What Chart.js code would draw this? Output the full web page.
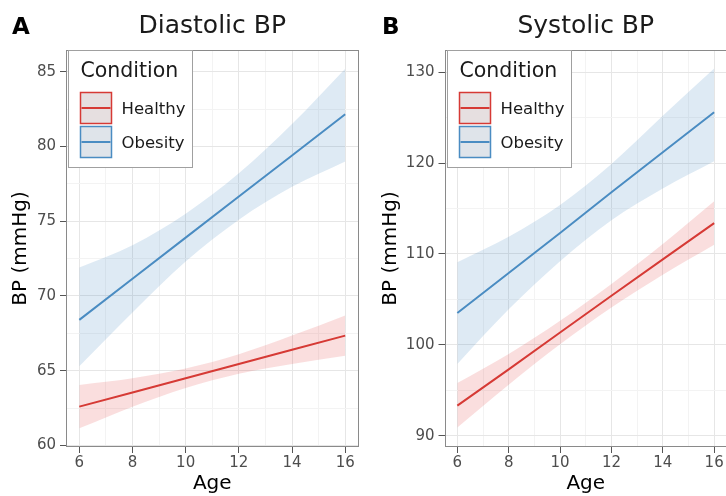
<!DOCTYPE html>
<html>
<head>
<meta charset="utf-8">
<script src="https://cdn.jsdelivr.net/npm/chart.js@4.4.1/dist/chart.umd.min.js"></script>
<style>
  html, body { margin: 0; padding: 0; background: #fff; overflow: hidden; }
  #wrap { position: relative; width: 726px; height: 496px; overflow: hidden; }
  canvas { position: absolute; top: 0; }
  #dia { left: 0; }
  #sys { left: 370px; }
</style>
</head>
<body>
<div id="wrap">
  <canvas id="dia" width="370" height="496"></canvas>
  <canvas id="sys" width="372" height="496"></canvas>
</div>
<script>
// ages where the fitted lines and bands are sampled
const ages = [6, 8, 10, 12, 14, 16];
const conditions = ['Healthy', 'Obesity'];

// diastolic BP: fitted line + confidence band
const diaHealthyFit  = [62.6, 63.55, 64.5, 65.45, 66.4, 67.35];
const diaHealthyLow  = [61.15, 62.6, 63.85, 64.8, 65.45, 66.0];
const diaHealthyHigh = [64.05, 64.5, 65.15, 66.1, 67.35, 68.7];
const diaObesityFit  = [68.4, 71.15, 73.9, 76.65, 79.4, 82.15];
const diaObesityLow  = [65.3, 68.9, 72.3, 75.1, 77.3, 79.0];
const diaObesityHigh = [71.9, 73.4, 75.5, 78.2, 81.5, 85.2];

// systolic BP
const sysHealthyFit  = [93.3, 97.3, 101.35, 105.4, 109.4, 113.4];
const sysHealthyLow  = [90.9, 95.6, 100.05, 104.1, 107.7, 111.0];
const sysHealthyHigh = [95.8, 99.0, 102.65, 106.7, 111.1, 115.8];
const sysObesityFit  = [103.5, 107.9, 112.3, 116.8, 121.2, 125.6];
const sysObesityLow  = [97.9, 103.9, 109.2, 113.7, 117.2, 120.2];
const sysObesityHigh = [109.1, 111.9, 115.4, 119.9, 125.2, 130.4];

// axis tick labels
const ageTicks = [6, 8, 10, 12, 14, 16];
const diaTicks = [60, 65, 70, 75, 80, 85];
const sysTicks = [90, 100, 110, 120, 130];

const FONT = '"DejaVu Sans", "Noto Sans", sans-serif';
const lineColors = { Healthy: '#d63a35', Obesity: '#4a8cc2' };
const bandColors = { Healthy: 'rgba(228, 60, 60, 0.17)', Obesity: 'rgba(70, 140, 195, 0.18)' };
const keyFills = { Healthy: '#e6dfe0', Obesity: '#dfe4ea' };

// minor grid lines sit halfway between the labelled ones
function withMinor(major) {
  const all = [];
  major.forEach((v, i) => {
    all.push(v);
    if (i < major.length - 1) all.push((v + major[i + 1]) / 2);
  });
  return all;
}

function pts(ys) {
  return ages.map((a, i) => ({ x: a, y: ys[i] }));
}

// frame, heading and ggplot-style legend
const panelDecor = {
  id: 'panelDecor',
  afterDatasetsDraw(chart) {
    const { ctx, chartArea: a } = chart;
    ctx.save();
    ctx.strokeStyle = '#8a8a8a';
    ctx.lineWidth = 1;
    ctx.strokeRect(Math.round(a.left) + 0.5, Math.round(a.top) + 0.5,
      Math.round(a.right - a.left) - 1, Math.round(a.bottom - a.top) - 1);
    ctx.restore();
  },
  afterDraw(chart, args, opts) {
    const { ctx, chartArea: a } = chart;
    ctx.save();
    // panel tag and title
    ctx.fillStyle = '#000';
    ctx.textBaseline = 'alphabetic';
    ctx.textAlign = 'left';
    ctx.font = 'bold 23px ' + FONT;
    ctx.fillText(opts.tag, 12, 34);
    ctx.fillStyle = '#1a1a1a';
    ctx.textAlign = 'center';
    ctx.font = '25px ' + FONT;
    ctx.fillText(opts.title, (a.left + a.right) / 2, 33);

    // legend box in the top-left corner of the panel
    const x0 = Math.round(a.left) + 2.5, y0 = Math.round(a.top) + 0.5;
    ctx.fillStyle = '#fff';
    ctx.fillRect(x0, y0, 124, 117);
    ctx.strokeStyle = '#a0a0a0';
    ctx.lineWidth = 1;
    ctx.strokeRect(x0, y0, 124, 117);

    ctx.textAlign = 'left';
    ctx.fillStyle = '#1a1a1a';
    ctx.font = '20.5px ' + FONT;
    ctx.fillText('Condition', x0 + 12, y0 + 26.5);

    ctx.font = '16.5px ' + FONT;
    conditions.forEach((name, i) => {
      const ky = y0 + 42 + i * 34;
      ctx.fillStyle = keyFills[name];
      ctx.fillRect(x0 + 12, ky, 31, 31);
      ctx.strokeStyle = lineColors[name];
      ctx.lineWidth = 1.5;
      ctx.strokeRect(x0 + 12, ky, 31, 31);
      ctx.lineWidth = 2;
      ctx.beginPath();
      ctx.moveTo(x0 + 13, ky + 15.5);
      ctx.lineTo(x0 + 42, ky + 15.5);
      ctx.stroke();
      ctx.fillStyle = '#1a1a1a';
      ctx.fillText(name, x0 + 53, ky + 21.5);
    });
    ctx.restore();
  }
};

function makePanel(id, cfg) {
  const yGrid = withMinor(cfg.yTicks);
  const xGrid = withMinor(ageTicks);
  const datasets = [];
  cfg.series.forEach(s => {
    datasets.push({
      label: s.name + ' low', data: pts(s.low), borderWidth: 0, pointRadius: 0,
      fill: false, cubicInterpolationMode: 'monotone', order: 2
    });
    datasets.push({
      label: s.name + ' high', data: pts(s.high), borderWidth: 0, pointRadius: 0,
      fill: '-1', backgroundColor: bandColors[s.name], cubicInterpolationMode: 'monotone', order: 2
    });
  });
  cfg.series.forEach(s => {
    datasets.push({
      label: s.name, data: pts(s.fit), borderColor: lineColors[s.name], borderWidth: 2,
      pointRadius: 0, fill: false, tension: 0, order: 1
    });
  });

  return new Chart(document.getElementById(id), {
    type: 'line',
    data: { datasets },
    plugins: [panelDecor],
    options: {
      responsive: false,
      animation: false,
      layout: { padding: { top: 50, right: cfg.padRight, left: 0, bottom: 0 } },
      plugins: {
        legend: { display: false },
        tooltip: { enabled: false },
        panelDecor: { tag: cfg.tag, title: cfg.title }
      },
      scales: {
        x: {
          type: 'linear', min: 5.5, max: 16.5,
          afterBuildTicks: s => { s.ticks = xGrid.map(v => ({ value: v })); },
          afterFit: s => { s.height = 49; },
          ticks: {
            autoSkip: false, maxRotation: 0, padding: 1,
            color: '#4d4d4d', font: { family: FONT, size: 15 },
            callback: v => ageTicks.includes(v) ? String(v) : ''
          },
          grid: {
            color: c => ageTicks.includes(c.tick.value) ? '#e6e6e6' : '#f3f3f3',
            tickColor: c => ageTicks.includes(c.tick.value) ? '#555' : 'rgba(0,0,0,0)',
            tickLength: 6
          },
          border: { display: false },
          title: { display: true, text: 'Age', color: '#000', font: { family: FONT, size: 20 }, padding: { top: 0, bottom: 0 } }
        },
        y: {
          min: cfg.yMin, max: cfg.yMax,
          afterBuildTicks: s => { s.ticks = yGrid.map(v => ({ value: v })); },
          afterFit: s => { s.width = cfg.yWidth; },
          ticks: {
            autoSkip: false, padding: 4,
            color: '#4d4d4d', font: { family: FONT, size: 15 },
            callback: v => cfg.yTicks.includes(v) ? String(v) : ''
          },
          grid: {
            color: c => cfg.yTicks.includes(c.tick.value) ? '#e6e6e6' : '#f3f3f3',
            tickColor: c => cfg.yTicks.includes(c.tick.value) ? '#555' : 'rgba(0,0,0,0)',
            tickLength: 6
          },
          border: { display: false },
          title: { display: true, text: 'BP (mmHg)', color: '#000', font: { family: FONT, size: 20 }, padding: { top: 9, bottom: 0 } }
        }
      }
    }
  });
}

makePanel('dia', {
  tag: 'A', title: 'Diastolic BP',
  yMin: 59.9, yMax: 86.45, yTicks: diaTicks, yWidth: 66, padRight: 11.5,
  series: [
    { name: 'Healthy', fit: diaHealthyFit, low: diaHealthyLow, high: diaHealthyHigh },
    { name: 'Obesity', fit: diaObesityFit, low: diaObesityLow, high: diaObesityHigh }
  ]
});

makePanel('sys', {
  tag: 'B', title: 'Systolic BP',
  yMin: 88.75, yMax: 132.45, yTicks: sysTicks, yWidth: 74.5, padRight: 15,
  series: [
    { name: 'Healthy', fit: sysHealthyFit, low: sysHealthyLow, high: sysHealthyHigh },
    { name: 'Obesity', fit: sysObesityFit, low: sysObesityLow, high: sysObesityHigh }
  ]
});
</script>
</body>
</html>
